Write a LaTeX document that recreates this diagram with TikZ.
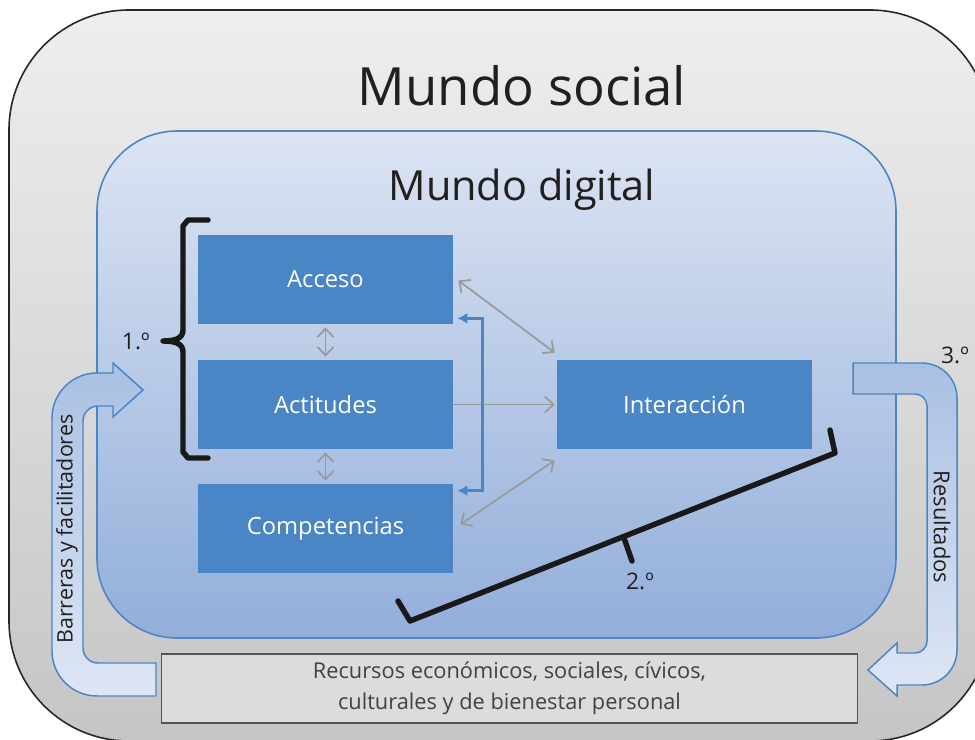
\documentclass[tikz,border=0pt]{standalone}
\usepackage{fontspec}
\setmainfont{Open Sans}
\usetikzlibrary{arrows.meta,calc}
\definecolor{outerTop}{HTML}{EEEEEE}
\definecolor{outerBot}{HTML}{C5C5C6}
\definecolor{innerTop}{HTML}{DCE4F3}
\definecolor{innerBot}{HTML}{92AEDA}
\definecolor{blueLine}{HTML}{4A86C5}
\definecolor{boxBlue}{HTML}{4A86C5}
\definecolor{bandTop}{HTML}{A9C0E3}
\definecolor{bandBot}{HTML}{DEE6F4}
\definecolor{grayArrow}{HTML}{9A9A9A}
\definecolor{txt}{HTML}{231F20}
\definecolor{resFill}{HTML}{DCDCDD}
\definecolor{resLine}{HTML}{555555}
\tikzset{
  bluebox/.style={fill=boxBlue, text=white, minimum width=5.1cm, minimum height=1.78cm,
    inner sep=0pt, font=\fontsize{13.5}{16}\selectfont},
  grayarr/.style={draw=grayArrow, line width=1pt,
    arrows={Straight Barb[length=1.7mm,width=3.2mm]-Straight Barb[length=1.7mm,width=3.2mm]}},
  grayone/.style={draw=grayArrow, line width=1pt,
    arrows={-Straight Barb[length=1.7mm,width=3.2mm]}},
  band/.style={draw=blueLine, line width=0.85pt, top color=bandTop, bottom color=bandBot},
  brk/.style={draw=black!90, line width=3.1pt, line cap=round, line join=round},
  lbl/.style={text=txt, inner sep=0pt}
}
\begin{document}
\begin{tikzpicture}[x=0.02cm,y=-0.02cm]
\useasboundingbox (0,0) rectangle (975,740);
\clip (0,0) rectangle (975,740);
% outer world
\shade[top color=outerTop, bottom color=outerBot, draw=black!85, line width=0.9pt, rounded corners=2.4cm]
  (9,10) rectangle (990,741);
\node[lbl, font=\fontsize{30}{36}\selectfont] (social) at (522,86) {Mundo social};
% inner world
\shade[top color=innerTop, bottom color=innerBot, draw=blueLine, line width=0.9pt, rounded corners=1.6cm]
  (97,131) rectangle (896,638);
\node[lbl, font=\fontsize{23.6}{28}\selectfont] (digital) at (522,190) {Mundo digital};
% boxes
\node[bluebox] (acc) at (325.5,279.5) {Acceso};
\node[bluebox] (act) at (325.5,404.5) {Actitudes};
\node[bluebox] (comp) at (325.5,528.5) {Competencias};
\node[bluebox] (int) at (684.5,404.5) {Interacción};
% gray arrows
\draw[grayarr] ($(acc.south)+(0,3)$) -- ($(act.north)+(0,-3)$);
\draw[grayarr] ($(act.south)+(0,3)$) -- ($(comp.north)+(0,-3)$);
\draw[grayarr] ($(acc.east)+(5,1)$) -- ($(int.north west)+(-2,-7)$);
\draw[grayone] (act.east) -- ($(int.west)+(-2,0)$);
\draw[grayarr] ($(comp.east)+(7,-4)$) -- ($(int.south west)+(-2,11)$);
% blue bracket arrow
\draw[draw=blueLine, line width=1.4pt, arrows={Latex[length=2mm,width=2.2mm]-Latex[length=2mm,width=2.2mm]}]
  ($(acc.south east)+(4,-6)$) -- ++(25,0) |- ($(comp.north east)+(4,7)$);
% bracket 1
\draw[brk] (208,220) -- (188,220) -- (183,226) -- (183,330)
  .. controls (183,338) and (176,341) .. (163,341)
  .. controls (176,341) and (183,344) .. (183,352) -- (183,452) -- (188,458) -- (208,458);
\node[lbl, font=\fontsize{13}{16}\selectfont, anchor=east] (one) at (150,341) {1.º};
% bracket 2
\draw[brk] (398,601) -- (410,621) -- (835,453) -- (830,430);
\draw[brk] (624,538) -- (632,561);
\node[lbl, font=\fontsize{13}{16}\selectfont] (two) at (640,581) {2.º};
\node[lbl, font=\fontsize{13}{16}\selectfont] (three) at (955,355) {3.º};
% left band arrow
\path[band] (156,696) -- (97,696) .. controls (72.2,696) and (52,675.8) .. (52,651)
  -- (52,418) .. controls (52,393.2) and (72.2,373) .. (97,373)
  -- (113,373) -- (113,363) -- (143,390) -- (113,417) -- (113,406)
  -- (98,406) .. controls (89.7,406) and (83,412.7) .. (83,421)
  -- (83,648) .. controls (83,656.3) and (89.7,663) .. (98,663)
  -- (156,663) -- cycle;
\node[lbl, rotate=90, font=\fontsize{12.2}{15}\selectfont] (barr) at (67,529) {Barreras y facilitadores};
% right band arrow
\path[band] (853,363) -- (922,363) .. controls (941.3,363) and (957,378.7) .. (957,398)
  -- (957,650) .. controls (957,669.3) and (941.3,685) .. (922,685)
  -- (897,685) -- (897,696) -- (868,670) -- (897,643) -- (897,653)
  -- (915,653) .. controls (921.6,653) and (927,647.6) .. (927,641)
  -- (927,406) .. controls (927,399.4) and (921.6,394) .. (915,394)
  -- (853,394) -- cycle;
\node[lbl, rotate=-90, font=\fontsize{12.5}{15}\selectfont] (res) at (942,527) {Resultados};
% bottom box
\node[draw=resLine, fill=resFill, line width=0.6pt, minimum width=13.94cm, minimum height=1.38cm,
  inner sep=0pt, text=txt!85, align=center, font=\fontsize{12.4}{17.5}\selectfont] (recursos) at (509.5,688.5)
  {Recursos económicos, sociales, cívicos,\\culturales y de bienestar personal};
\end{tikzpicture}
\end{document}
